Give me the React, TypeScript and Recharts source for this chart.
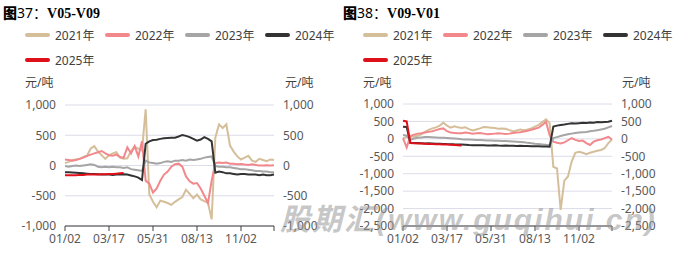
import React from 'react';
import { LineChart, Line, XAxis, YAxis, CartesianGrid, Legend } from 'recharts';

const categories = [
  '01/02', '01/08', '01/14', '01/20', '01/26', '02/01', '02/07', '02/13', '02/19', '02/25', '03/03', '03/10',
  '03/17', '03/23', '03/29', '04/05', '04/11', '04/17', '04/23', '04/30', '05/06', '05/12', '05/18', '05/25',
  '05/31', '06/06', '06/12', '06/18', '06/25', '07/01', '07/07', '07/13', '07/19', '07/26', '08/01', '08/07',
  '08/13', '08/20', '08/27', '09/02', '09/09', '09/16', '09/23', '09/30', '10/06', '10/13', '10/20', '10/27',
  '11/02', '11/09', '11/16', '11/23', '11/30', '12/07', '12/14', '12/20', '12/26', '12/31',
];
const xTickLabels = ['01/02', '03/17', '05/31', '08/13', '11/02'];

const seriesNames = ['2021年', '2022年', '2023年', '2024年', '2025年'];
const seriesColors = ['#D5BF9A', '#F2888C', '#A5A5A5', '#333333', '#E0101A'];

// 图37: V05-V09
const l2021 = [40, 60, 90, 100, 110, 140, 160, 280, 320, 230, 170, 110, 170, 200, 220, 130, 110, 120, 240, 310, 280, 250, 930, -480, -600, -690, -580, -600, -620, -650, -600, -560, -520, -400, -470, -540, -480, -560, -590, -620, -890, 460, 680, 620, 680, 330, 230, 150, 100, 130, 160, 80, 60, 110, 90, 70, 100, 90];
const l2022 = [100, 90, 80, 90, 110, 130, 160, 180, 200, 220, 240, 200, 170, 160, 180, 140, 130, 300, 200, 320, 150, 400, -250, -300, -450, -380, -250, -150, -100, -20, 20, 30, -20, -180, -260, -300, -290, -380, -500, -620, -250, 40, 50, 40, 50, 30, 30, 20, 25, 15, 10, 20, 10, 0, 0, 5, 0, 5];
const l2023 = [-10, -20, -10, 0, -10, 0, 10, 20, 10, -20, -30, -20, -30, -20, -30, -30, -40, -30, -60, -70, -80, -90, 80, 50, 40, 30, 40, 60, 70, 60, 80, 80, 90, 80, 100, 90, 100, 110, 130, 140, 150, -10, -20, -20, -30, -30, -40, -50, -60, -60, -70, -80, -90, -90, -100, -100, -110, -110];
const l2024 = [-110, -110, -115, -120, -125, -130, -135, -140, -140, -145, -150, -150, -150, -155, -150, -150, -145, -150, -165, -180, -200, -240, 360, 400, 420, 425, 440, 450, 455, 460, 460, 480, 505, 490, 470, 440, 410, 430, 470, 440, 400, -120, -100, -110, -130, -130, -140, -150, -140, -140, -150, -150, -150, -160, -150, -160, -160, -150];
const l2025 = [-160, -160, -160, -160, -155, -155, -150, -150, -150, -150, -145, -145, -140, -140, -135, -130, -125];

// 图38: V09-V01
const r2021 = [20, 50, 60, 70, 90, 130, 200, 260, 300, 330, 380, 460, 380, 320, 360, 330, 310, 330, 280, 240, 270, 300, 340, 330, 320, 310, 290, 300, 290, 250, 220, 240, 270, 250, 270, 300, 350, 400, 480, 560, 450, -800, -850, -2040, -1200, -1080, -650, -400, -370, -400, -440, -400, -370, -340, -320, -270, -120, -20];
const r2022 = [20, -250, 80, 120, 150, 160, 180, 200, 220, 250, 280, 300, 220, 180, 170, 160, 160, 180, 170, 150, 160, 170, 150, 130, 140, 150, 160, 150, 140, 150, 170, 180, 190, 210, 230, 260, 290, 320, 400, 490, 100, -80, -110, -130, -100, -40, 20, -30, -60, -50, -120, -175, -80, -40, -20, 20, 60, -20];
const r2023 = [110, 90, -30, 10, 30, 40, 50, 50, 45, 40, 35, 30, 25, 20, 10, 0, -10, -15, -20, -25, -30, -35, -40, -45, -50, -55, -55, -60, -65, -70, -75, -80, -90, -100, -115, -125, -140, -150, -160, -170, -175, 20, 50, 80, 110, 130, 150, 165, 180, 190, 200, 215, 230, 250, 270, 290, 330, 370];
const r2024 = [350, 340, -110, -118, -122, -125, -130, -128, -135, -140, -138, -145, -150, -152, -158, -160, -165, -172, -178, -180, -182, -185, -183, -188, -190, -186, -192, -195, -193, -198, -200, -203, -200, -205, -208, -212, -210, -215, -218, -222, -228, 350, 380, 395, 410, 430, 445, 440, 450, 460, 455, 470, 465, 480, 478, 485, 490, 520];
const r2025 = [520, 500, -120, -125, -130, -135, -140, -145, -150, -152, -155, -160, -165, -170, -175, -180, -188];

const leftYTicks = [-1000, -500, 0, 500, 1000];
const rightYTicks = [-2500, -2000, -1500, -1000, -500, 0, 500, 1000];

const FONT = "'Noto Sans', 'Noto Sans CJK SC', sans-serif";

function buildRows(series: number[][]) {
  return categories.map((c, i) => {
    const row: Record<string, any> = { date: c };
    series.forEach((s, k) => {
      row['s' + k] = i < s.length ? s[i] : null;
    });
    return row;
  });
}

const fmt = (v: number) => v.toLocaleString('en-US');

const LegendContent = (props: any) => (
  <div style={{ display: 'flex', flexWrap: 'wrap', width: 330, fontFamily: FONT }}>
    {(props.payload || []).map((p: any) => (
      <div key={p.value} style={{ width: 80, height: 25, display: 'flex', alignItems: 'center' }}>
        <span style={{ display: 'inline-block', width: 25, height: 4, borderRadius: 2, background: p.color, marginRight: 5 }} />
        <span style={{ fontSize: 12, color: '#404040' }}>{p.value}</span>
      </div>
    ))}
  </div>
);

type PanelProps = {
  left: number;
  width: number;
  num: string;
  code: string;
  series: number[][];
  yTicks: number[];
  yLeftW: number;
  yRightW: number;
  top: number;
  legendLeft: number;
  unitLeftX: number;
  unitRightX: number;
};

function Panel(p: PanelProps) {
  const data = buildRows(p.series);
  const xTicks = [...xTickLabels, categories[categories.length - 1]];
  const tickStyle = { fontSize: 12, fill: '#595959', fontFamily: FONT };
  return (
    <div style={{ position: 'absolute', left: p.left, top: 0, width: p.width, height: 255 }}>
      <div style={{ position: 'absolute', left: 3, top: 3, fontSize: 14, lineHeight: '18px', whiteSpace: 'nowrap', color: '#000' }}>
        <span style={{ fontFamily: "'Noto Sans CJK SC'", fontWeight: 900 }}>图</span>
        <span style={{ fontFamily: FONT }}>{p.num}：</span>
        <span style={{ fontFamily: "'Liberation Serif', serif", fontWeight: 700 }}>{p.code}</span>
      </div>
      <div style={{ position: 'absolute', left: p.unitLeftX, top: 74, fontSize: 12, lineHeight: '18px', color: '#404040', fontFamily: FONT }}>元/吨</div>
      <div style={{ position: 'absolute', left: p.unitRightX, top: 74, fontSize: 12, lineHeight: '18px', color: '#404040', fontFamily: FONT }}>元/吨</div>
      <LineChart width={p.width} height={255} data={data} margin={{ top: p.top, right: 0, bottom: 0, left: 0 }}>
        <CartesianGrid yAxisId="l" horizontal={true} vertical={false} stroke="#DCDCEA" />
        <XAxis
          dataKey="date"
          height={29}
          ticks={xTicks}
          interval={0}
          tickFormatter={(v: string) => (xTickLabels.includes(v) ? v : '')}
          tick={tickStyle}
          tickSize={5}
          tickMargin={3}
          stroke="#404040"
          axisLine={{ stroke: '#404040' }}
          tickLine={{ stroke: '#404040' }}
        />
        <YAxis
          yAxisId="l"
          orientation="left"
          width={p.yLeftW}
          domain={[p.yTicks[0], p.yTicks[p.yTicks.length - 1]]}
          ticks={p.yTicks}
          interval={0}
          tickFormatter={fmt}
          tick={tickStyle}
          axisLine={false}
          tickLine={false}
          tickSize={0}
          tickMargin={9}
          allowDataOverflow
        />
        <YAxis
          yAxisId="r"
          orientation="right"
          width={p.yRightW}
          domain={[p.yTicks[0], p.yTicks[p.yTicks.length - 1]]}
          ticks={p.yTicks}
          interval={0}
          tickFormatter={fmt}
          tick={tickStyle}
          axisLine={false}
          tickLine={false}
          tickSize={0}
          tickMargin={9}
          allowDataOverflow
        />
        <Legend
          layout="horizontal"
          verticalAlign="middle"
          align="center"
          content={LegendContent}
          wrapperStyle={{ top: 22, left: p.legendLeft, width: 330 }}
        />
        {seriesNames.map((name, k) => (
          <Line
            key={name}
            yAxisId="l"
            type="linear"
            dataKey={'s' + k}
            name={name}
            stroke={seriesColors[k]}
            strokeWidth={2}
            dot={false}
            activeDot={false}
            connectNulls={false}
            isAnimationActive={false}
          />
        ))}
      </LineChart>
    </div>
  );
}

export default function App() {
  return (
    <div style={{ position: 'absolute', left: 0, top: 0, width: 679, height: 255, background: '#fff', overflow: 'hidden', fontFamily: FONT }}>
      <Panel
        left={0}
        width={340}
        num="37"
        code="V05-V09"
        series={[l2021, l2022, l2023, l2024, l2025]}
        yTicks={leftYTicks}
        yLeftW={65}
        yRightW={66}
        top={105}
        legendLeft={25}
        unitLeftX={25}
        unitRightX={285}
      />
      <Panel
        left={340}
        width={339}
        num="38"
        code="V09-V01"
        series={[r2021, r2022, r2023, r2024, r2025]}
        yTicks={rightYTicks}
        yLeftW={63}
        yRightW={67}
        top={104}
        legendLeft={23}
        unitLeftX={23}
        unitRightX={282}
      />
      <div
        style={{
          position: 'absolute',
          left: 280,
          top: 203,
          fontSize: 30,
          lineHeight: '34px',
          fontWeight: 700,
          fontStyle: 'italic',
          letterSpacing: 2,
          whiteSpace: 'nowrap',
          color: 'rgba(150,150,150,0.55)',
          fontFamily: "'Liberation Sans', 'Noto Sans CJK SC', sans-serif",
          pointerEvents: 'none',
        }}
      >
        股期汇(www.guqihui.cn)
      </div>
    </div>
  );
}
